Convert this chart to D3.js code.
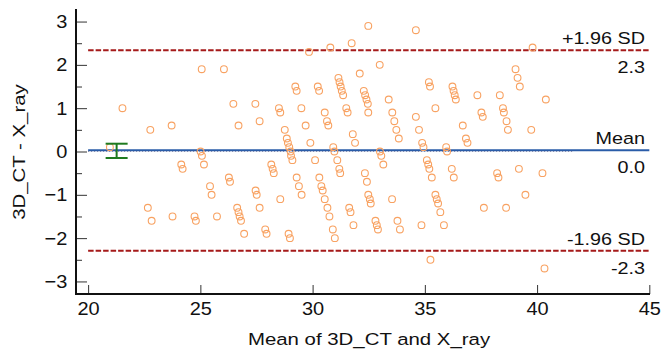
<!DOCTYPE html>
<html>
<head>
<meta charset="utf-8">
<script src="https://cdn.jsdelivr.net/npm/d3@7"></script>
<style>
  body { margin: 0; background: #fff; }
  text { font-family: "Liberation Sans", Arial, sans-serif; fill: #111; }
</style>
</head>
<body>
<div id="vis"></div>
<script>
// Bland-Altman: mean of the two methods vs difference (3D_CT - X_ray)
const means = [25.06, 26.05, 21.53, 22.77, 23.72, 20.97, 25.01, 25.07, 32.48, 31.74,
  30.79, 29.84, 32.10, 31.15, 31.20, 31.25, 31.30, 31.36, 29.23, 29.29,
  30.23, 30.29, 32.28, 32.34, 32.40, 32.46, 26.47, 27.45, 28.50, 28.56,
  29.50, 30.54, 31.50, 31.56, 32.48, 26.70, 27.64, 30.64, 30.70, 29.69,
  28.76, 28.85, 28.90, 28.96, 29.02, 29.04, 29.10, 29.90, 31.79, 31.89,
  30.92, 30.97, 31.10, 34.60, 32.99, 35.18, 35.23, 36.23, 36.28, 36.33,
  36.38, 37.34, 38.34, 33.39, 33.55, 33.64, 33.73, 33.84, 35.47, 34.60,
  34.74, 34.88, 34.94, 35.09, 35.15, 35.20, 35.31, 35.95, 35.99, 36.69,
  36.83, 36.90, 37.52, 37.58, 38.48, 38.52, 38.64, 38.70, 39.80, 39.04,
  39.13, 39.23, 40.39, 39.74, 24.15, 24.21, 25.16, 26.27, 26.32, 25.43,
  25.50, 22.66, 22.83, 23.76, 24.74, 24.80, 25.74, 30.11, 28.16, 28.22,
  28.27, 29.29, 29.39, 29.51, 30.30, 30.39, 30.45, 30.54, 30.66, 30.75,
  31.19, 31.23, 32.33, 32.42, 32.48, 32.55, 32.59, 27.46, 27.51, 28.56,
  27.64, 26.64, 26.70, 26.75, 26.81, 26.95, 27.89, 27.95, 28.93, 28.99,
  30.90, 30.99, 31.63, 31.69, 31.82, 33.00, 33.06, 33.15, 33.54, 36.20,
  36.29, 38.22, 38.28, 35.47, 35.53, 35.59, 35.69, 37.63, 38.62, 32.80,
  32.86, 32.91, 33.78, 33.89, 34.85, 35.85, 35.25, 39.19, 40.24, 39.48,
  40.33];
const diffs = [1.9, 1.9, 1.0, 0.5, 0.6, 0.1, 0.0, -0.1, 2.9, 2.5,
  2.4, 2.3, 1.8, 1.7, 1.6, 1.5, 1.4, 1.3, 1.5, 1.4,
  1.5, 1.4, 1.4, 1.3, 1.2, 1.1, 1.1, 1.1, 1.0, 0.9,
  1.0, 0.9, 1.0, 0.9, 0.9, 0.6, 0.7, 0.7, 0.6, 0.6,
  0.5, 0.3, 0.2, 0.1, 0.0, -0.1, -0.2, 0.2, 0.4, 0.2,
  0.1, 0.0, -0.2, 2.8, 2.0, 1.6, 1.5, 1.5, 1.4, 1.3,
  1.2, 1.3, 1.3, 1.2, 0.9, 0.7, 0.5, 0.3, 1.0, 0.8,
  0.5, 0.2, 0.1, -0.2, -0.3, -0.4, -0.6, 0.1, 0.0, 0.6,
  0.3, 0.2, 0.9, 0.8, 1.0, 0.9, 0.7, 0.5, 2.4, 1.9,
  1.7, 1.5, 1.2, 0.5, -0.3, -0.4, -0.3, -0.6, -0.7, -0.8,
  -1.0, -1.3, -1.6, -1.5, -1.5, -1.6, -1.5, -0.2, -0.3, -0.4,
  -0.5, -0.6, -0.8, -1.0, -0.6, -0.8, -0.9, -1.1, -1.3, -1.5,
  -0.4, -0.5, -0.5, -0.7, -1.0, -1.1, -1.2, -0.9, -1.0, -1.1,
  -1.3, -1.3, -1.4, -1.5, -1.6, -1.9, -1.8, -1.9, -1.9, -2.0,
  -1.8, -2.0, -1.3, -1.4, -1.7, 0.0, -0.1, -0.3, -1.1, -0.4,
  -0.6, -0.5, -0.6, -1.0, -1.1, -1.2, -1.4, -1.3, -1.3, -1.6,
  -1.7, -1.8, -1.6, -1.8, -1.7, -1.7, -2.5, -0.4, -0.5, -1.0,
  -2.7];

// summary lines
const meanDiff = 0.03;
const upperLoA = 2.34;
const lowerLoA = -2.29;
const ciMean = [-0.15, 0.18];
const ciX = 21.27;
const lineLabels = ["+1.96 SD", "Mean", "-1.96 SD"];
const lineValues = ["2.3", "0.0", "-2.3"];

const xTicks = [20, 25, 30, 35, 40, 45];
const yTicks = [-3, -2, -1, 0, 1, 2, 3];
const yMinor = [-2.5, -1.5, -0.5, 0.5, 1.5, 2.5];

const W = 662, H = 358;
const padL = 76, padR = 650, padT = 9, padB = 294;

const svg = d3.select("#vis").append("svg")
  .attr("width", W).attr("height", H);

const x = d3.scaleLinear().domain([19.46, 45.03]).range([padL, padR]);
const y = d3.scaleLinear().domain([-3.29, 3.29]).range([padB, padT]);

// the reference font runs wide, so text gets a small horizontal stretch
const SX = 1.2;
const SXtick = 1.08;

// axes
const yAxis = svg.append("g")
  .attr("transform", `translate(${padL},0)`)
  .call(d3.axisLeft(y).tickValues(yTicks).tickSize(-11).tickPadding(8).tickFormat(d3.format("d")));
yAxis.select(".domain").remove();
yAxis.selectAll(".tick line").attr("stroke", "#333");
yAxis.selectAll(".tick text")
  .attr("font-size", 18.5).attr("fill", "#111")
  .attr("font-family", "Liberation Sans, Arial, sans-serif")
  .attr("transform", `scale(${SXtick},1)`);

svg.append("g")
  .attr("transform", `translate(${padL},0)`)
  .call(d3.axisLeft(y).tickValues(yMinor).tickSize(-6).tickFormat(""))
  .call(g => g.select(".domain").remove())
  .selectAll(".tick line").attr("stroke", "#333");

const xAxis = svg.append("g")
  .attr("transform", `translate(0,${padB})`)
  .call(d3.axisBottom(x).tickValues(xTicks).tickSize(-9).tickPadding(8));
xAxis.select(".domain").remove();
xAxis.selectAll(".tick line").attr("stroke", "#333");
xAxis.selectAll(".tick text")
  .attr("font-size", 18.5).attr("fill", "#111")
  .attr("font-family", "Liberation Sans, Arial, sans-serif")
  .attr("transform", `scale(${SXtick},1)`);

// reference lines
const lineX0 = x(20), lineX1 = x(45);
svg.append("line")
  .attr("x1", lineX0).attr("x2", x(41.6))
  .attr("y1", y(0)).attr("y2", y(0))
  .attr("stroke", "#9a8fa8").attr("stroke-width", 1).attr("stroke-dasharray", "1,2");

svg.append("line")
  .attr("x1", lineX0).attr("x2", lineX1)
  .attr("y1", y(meanDiff)).attr("y2", y(meanDiff))
  .attr("stroke", "#2a5ca8").attr("stroke-width", 2);

[upperLoA, lowerLoA].forEach(v => {
  svg.append("line")
    .attr("x1", lineX0).attr("x2", lineX1)
    .attr("y1", y(v)).attr("y2", y(v))
    .attr("stroke", "#a51a1a").attr("stroke-width", 2)
    .attr("stroke-dasharray", "5.5,2");
});

// points
svg.append("g").selectAll("circle")
  .data(means.map((m, i) => ({ m: m, d: diffs[i] })))
  .enter().append("circle")
  .attr("cx", d => x(d.m))
  .attr("cy", d => y(d.d))
  .attr("r", 3.4)
  .attr("fill", "none")
  .attr("stroke", "#f8a262")
  .attr("stroke-width", 1.1);

// 95% CI of the mean difference
const ci = svg.append("g").attr("stroke", "#1f7a1f").attr("stroke-width", 2);
ci.append("line")
  .attr("x1", x(ciX)).attr("x2", x(ciX))
  .attr("y1", y(ciMean[0])).attr("y2", y(ciMean[1]));
ciMean.forEach(v => {
  ci.append("line")
    .attr("x1", x(ciX) - 11).attr("x2", x(ciX) + 11)
    .attr("y1", y(v)).attr("y2", y(v));
});

// axis lines drawn last so they sit on top
svg.append("line").attr("x1", padL).attr("x2", padL).attr("y1", padT).attr("y2", padB + 1)
  .attr("stroke", "#111").attr("stroke-width", 2);
svg.append("line").attr("x1", padL - 1).attr("x2", padR).attr("y1", padB).attr("y2", padB)
  .attr("stroke", "#111").attr("stroke-width", 2);

// labels for the three lines, right aligned
function label(txt, px, py, size, anchor, rot) {
  const t = svg.append("text")
    .attr("transform", `translate(${px},${py})` + (rot ? ` rotate(${rot})` : "") + ` scale(${SX},1)`)
    .attr("text-anchor", anchor)
    .attr("font-size", size)
    .text(txt);
  return t;
}
[upperLoA, meanDiff, lowerLoA].forEach((v, i) => {
  label(lineLabels[i], 645, y(v) - 6, 16.5, "end");
  label(lineValues[i], 645, y(v) + 23, 16.5, "end");
});

// axis titles
label("Mean of 3D_CT and X_ray", 369, 345, 17, "middle");
label("3D_CT - X_ray", 25, 152, 17, "middle", -90);
</script>
</body>
</html>
